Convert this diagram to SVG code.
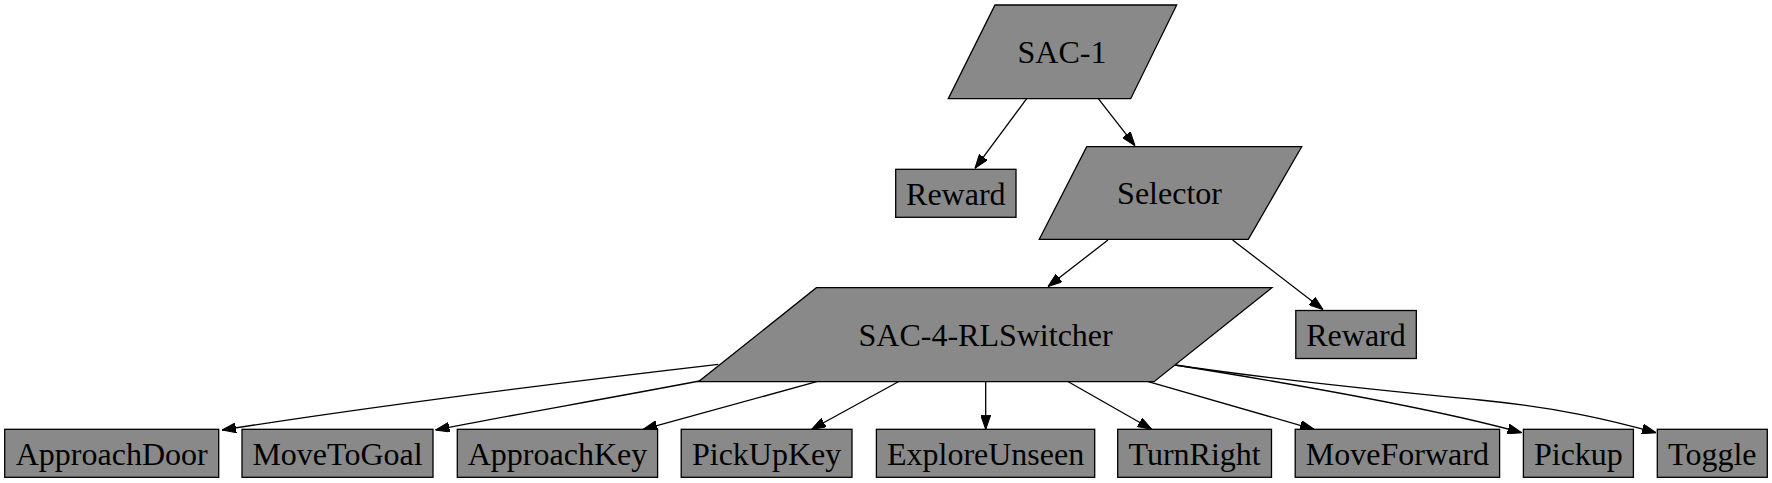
<svg xmlns="http://www.w3.org/2000/svg" width="1772" height="483" viewBox="0 0 1772 483" font-family="'Liberation Serif', 'Times New Roman', Times, serif">
<style>
.n{fill:#898989;stroke:#000;stroke-width:1.3}
text{font-family:'Liberation Serif','Times New Roman',Times,serif;font-size:32px;fill:#000;text-anchor:middle}
.e{fill:none;stroke:#000;stroke-width:1.3}
</style>
<defs>
<marker id="ah" markerUnits="userSpaceOnUse" markerWidth="14" markerHeight="10" viewBox="0 0 13.33 9.33" refX="13.33" refY="4.67" orient="auto">
<path d="M0,0 L13.33,4.67 L0,9.33 z" fill="#000" stroke="#000" stroke-width="1"/>
</marker>
</defs>
<rect width="1772" height="483" fill="#fff"/>
<g id="edges">
<path class="e" marker-end="url(#ah)" d="M1026.7,98.7 L975,168.3"/>
<path class="e" marker-end="url(#ah)" d="M1098.3,98.7 L1135,145.7"/>
<path class="e" marker-end="url(#ah)" d="M1108,240 L1048,286.5"/>
<path class="e" marker-end="url(#ah)" d="M1232.6,240 L1323,309.5"/>
<path class="e" marker-end="url(#ah)" d="M718.3,364.3 C600,378 400,402 222,430"/>
<path class="e" marker-end="url(#ah)" d="M702,380.5 C600,400 500,417 435.5,430"/>
<path class="e" marker-end="url(#ah)" d="M816.7,381.7 L643.3,429.3"/>
<path class="e" marker-end="url(#ah)" d="M898.3,381.7 L811.7,429.3"/>
<path class="e" marker-end="url(#ah)" d="M985.7,381.7 L985.7,429.3"/>
<path class="e" marker-end="url(#ah)" d="M1068.3,381.7 L1151.7,429.3"/>
<path class="e" marker-end="url(#ah)" d="M1148.3,381.7 L1314,429.3"/>
<path class="e" marker-end="url(#ah)" d="M1175,365 C1300,385 1440,410 1521.7,432.7"/>
<path class="e" marker-end="url(#ah)" d="M1175,365 C1290,382 1400,392 1480,400 C1560,408 1610,420 1656,432.7"/>
</g>
<g id="sac1">
<polygon class="n" points="995,5 1176.7,5 1130.7,98.7 948.3,98.7"/>
<text x="1062" y="63">SAC-1</text>
</g>
<g id="reward1">
<rect class="n" x="895.7" y="169.3" width="120.3" height="48"/>
<text x="955.8" y="204.5">Reward</text>
</g>
<g id="selector">
<polygon class="n" points="1086.7,146.7 1301.7,146.7 1248.3,239.3 1039.3,239.3"/>
<text x="1169.5" y="204">Selector</text>
</g>
<g id="sac4">
<polygon class="n" points="816.4,287.7 1271.9,287.7 1154,381.7 698.5,381.7"/>
<text x="985.6" y="346">SAC-4-RLSwitcher</text>
</g>
<g id="reward2">
<rect class="n" x="1295.8" y="310.5" width="120.5" height="48"/>
<text x="1356" y="345.5">Reward</text>
</g>
<g id="approachdoor">
<rect class="n" x="4.7" y="429.3" width="214" height="48"/>
<text x="111.7" y="464.5">ApproachDoor</text>
</g>
<g id="movetogoal">
<rect class="n" x="242" y="429.3" width="191" height="48"/>
<text x="337.5" y="464.5">MoveToGoal</text>
</g>
<g id="approachkey">
<rect class="n" x="457.3" y="429.3" width="200.3" height="48"/>
<text x="557.5" y="464.5">ApproachKey</text>
</g>
<g id="pickupkey">
<rect class="n" x="681.2" y="429.3" width="170.8" height="48"/>
<text x="766.6" y="464.5">PickUpKey</text>
</g>
<g id="exploreunseen">
<rect class="n" x="876.4" y="429.3" width="218.3" height="48"/>
<text x="985.6" y="464.5">ExploreUnseen</text>
</g>
<g id="turnright">
<rect class="n" x="1117.7" y="429.3" width="153.8" height="48"/>
<text x="1194.6" y="464.5">TurnRight</text>
</g>
<g id="moveforward">
<rect class="n" x="1295.2" y="429.3" width="204.4" height="48"/>
<text x="1397.4" y="464.5">MoveForward</text>
</g>
<g id="pickup">
<rect class="n" x="1523.4" y="429.3" width="110" height="48"/>
<text x="1578.4" y="464.5">Pickup</text>
</g>
<g id="toggle">
<rect class="n" x="1657.3" y="429.3" width="110" height="48"/>
<text x="1712.3" y="464.5">Toggle</text>
</g>
</svg>
